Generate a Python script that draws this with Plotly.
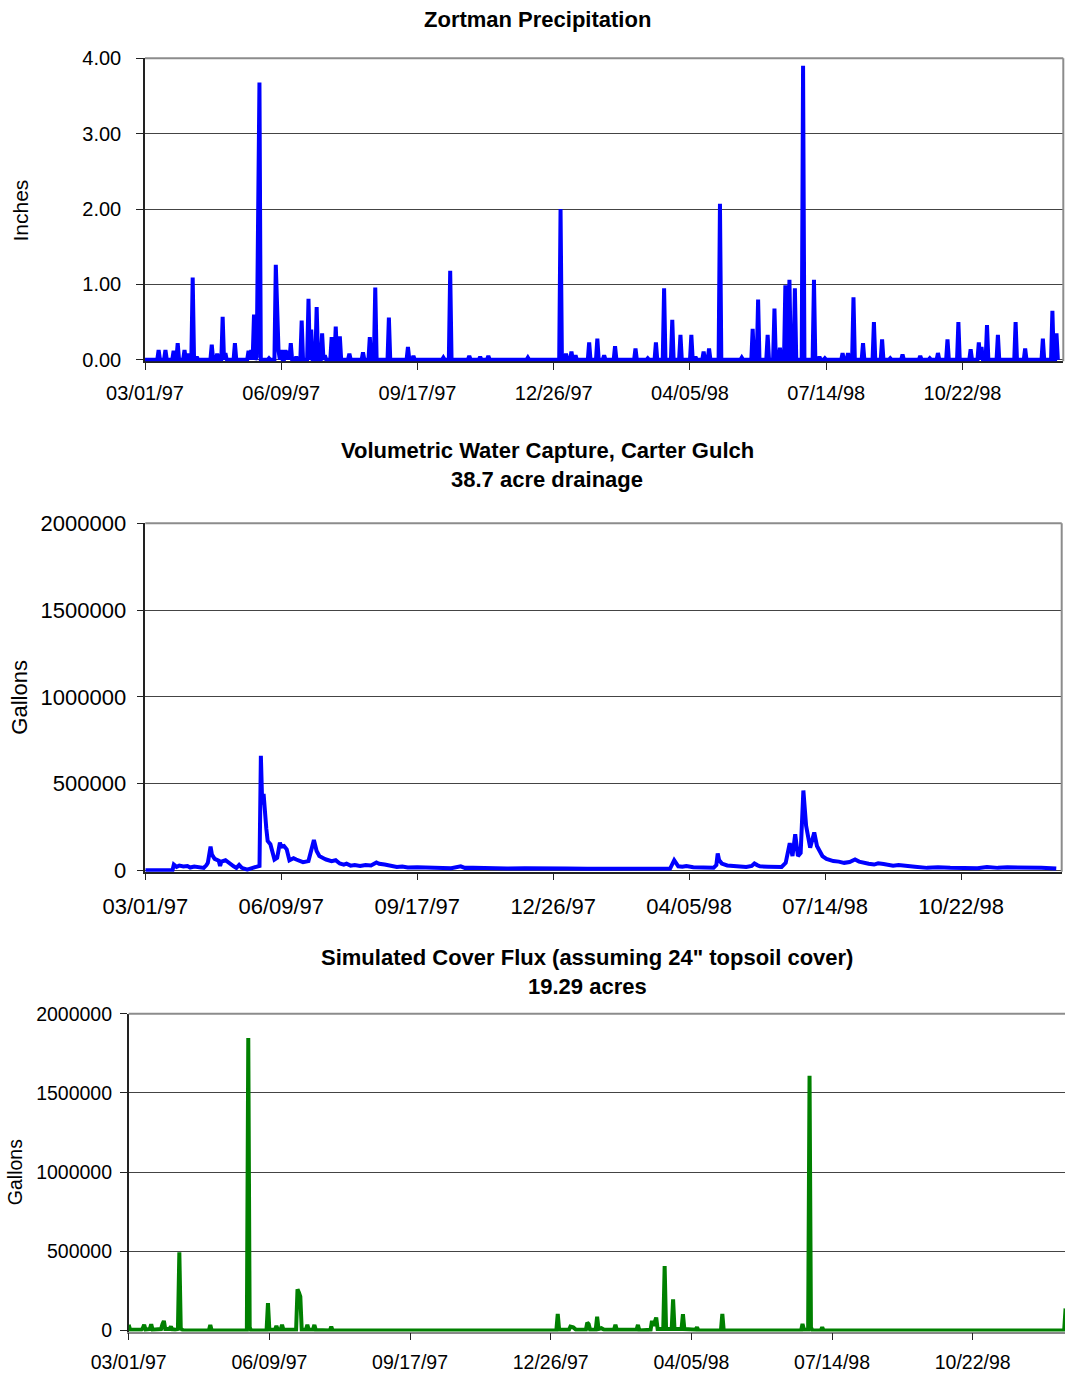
import pandas as pd
import plotly.graph_objects as go

W, H = 1065, 1374
FONT = "Liberation Sans, Arial, sans-serif"

# ---------------- data ----------------
precip_dates = [
    "1997-03-11", "1997-03-16", "1997-03-22", "1997-03-25", "1997-03-30", "1997-04-02",
    "1997-04-05", "1997-04-08", "1997-04-19", "1997-04-23", "1997-04-27", "1997-04-29",
    "1997-05-06", "1997-05-16", "1997-05-18", "1997-05-20", "1997-05-22", "1997-05-23",
    "1997-05-24", "1997-05-31", "1997-06-05", "1997-06-06", "1997-06-07", "1997-06-09",
    "1997-06-12", "1997-06-14", "1997-06-16", "1997-06-20", "1997-06-24", "1997-06-29",
    "1997-07-01", "1997-07-05", "1997-07-09", "1997-07-11", "1997-07-16", "1997-07-19",
    "1997-07-22", "1997-07-29", "1997-08-08", "1997-08-13", "1997-08-17", "1997-08-27",
    "1997-09-10", "1997-09-14", "1997-10-06", "1997-10-11", "1997-10-25", "1997-11-02",
    "1997-11-08", "1997-12-07", "1997-12-31", "1998-01-04", "1998-01-08", "1998-01-11",
    "1998-01-21", "1998-01-27", "1998-02-01", "1998-02-09", "1998-02-24", "1998-03-05",
    "1998-03-11", "1998-03-17", "1998-03-23", "1998-03-29", "1998-04-06", "1998-04-09",
    "1998-04-15", "1998-04-19", "1998-04-27", "1998-05-13", "1998-05-21", "1998-05-25",
    "1998-06-01", "1998-06-06", "1998-06-10", "1998-06-14", "1998-06-17", "1998-06-21",
    "1998-06-27", "1998-07-05", "1998-07-09", "1998-07-13", "1998-07-26", "1998-07-30",
    "1998-08-03", "1998-08-10", "1998-08-18", "1998-08-24", "1998-08-30", "1998-09-08",
    "1998-09-21", "1998-09-28", "1998-10-04", "1998-10-11", "1998-10-19", "1998-10-28",
    "1998-11-03", "1998-11-05", "1998-11-09", "1998-11-17", "1998-11-30", "1998-12-07",
    "1998-12-20", "1998-12-27", "1998-12-30",
]
precip_inches = [
    0.13, 0.13, 0.12, 0.22, 0.13, 0.08,
    1.09, 0.04, 0.20, 0.08, 0.57, 0.09,
    0.22, 0.12, 0.13, 0.60, 0.04, 2.54,
    3.68, 0.02, 1.26, 0.40, 0.12, 0.13,
    0.13, 0.12, 0.22, 0.04, 0.52, 0.81,
    0.40, 0.70, 0.35, 0.06, 0.30, 0.44,
    0.31, 0.08, 0.10, 0.30, 0.96, 0.56,
    0.17, 0.05, 0.03, 1.18, 0.05, 0.04,
    0.05, 0.03, 2.00, 0.08, 0.11, 0.06,
    0.23, 0.28, 0.06, 0.18, 0.15, 0.02,
    0.23, 0.95, 0.53, 0.33, 0.33, 0.04,
    0.11, 0.15, 2.07, 0.03, 0.41, 0.80,
    0.33, 0.68, 0.16, 0.99, 1.06, 0.95,
    3.90, 1.06, 0.04, 0.02, 0.09, 0.09,
    0.83, 0.22, 0.50, 0.27, 0.02, 0.07,
    0.05, 0.02, 0.09, 0.27, 0.50, 0.14,
    0.23, 0.17, 0.46, 0.33, 0.50, 0.15,
    0.28, 0.65, 0.35,
]
record_start = "1997-03-01"
record_end = "1998-12-31"

capture_dates = [
    "1997-03-01", "1997-03-21", "1997-03-22", "1997-03-24", "1997-03-26", "1997-03-29",
    "1997-04-01", "1997-04-03", "1997-04-06", "1997-04-08", "1997-04-10", "1997-04-13",
    "1997-04-15", "1997-04-16", "1997-04-18", "1997-04-19", "1997-04-21", "1997-04-24",
    "1997-04-25", "1997-04-26", "1997-04-29", "1997-05-01", "1997-05-05", "1997-05-07",
    "1997-05-09", "1997-05-11", "1997-05-15", "1997-05-19", "1997-05-23", "1997-05-24",
    "1997-05-25", "1997-05-26", "1997-05-27", "1997-05-28", "1997-05-29", "1997-05-30",
    "1997-06-01", "1997-06-04", "1997-06-06", "1997-06-08", "1997-06-09", "1997-06-11",
    "1997-06-13", "1997-06-15", "1997-06-18", "1997-06-20", "1997-06-23", "1997-06-25",
    "1997-06-29", "1997-07-01", "1997-07-03", "1997-07-05", "1997-07-07", "1997-07-10",
    "1997-07-12", "1997-07-16", "1997-07-19", "1997-07-22", "1997-07-25", "1997-07-27",
    "1997-07-30", "1997-08-02", "1997-08-06", "1997-08-10", "1997-08-14", "1997-08-18",
    "1997-08-20", "1997-08-24", "1997-08-28", "1997-09-02", "1997-09-06", "1997-09-10",
    "1997-09-17", "1997-09-24", "1997-10-04", "1997-10-12", "1997-10-19", "1997-10-22",
    "1997-10-28", "1997-11-05", "1997-11-15", "1997-11-22", "1997-12-05", "1997-12-20",
    "1998-01-05", "1998-01-20", "1998-01-30", "1998-02-15", "1998-03-01", "1998-03-15",
    "1998-03-22", "1998-03-25", "1998-03-28", "1998-03-31", "1998-04-03", "1998-04-08",
    "1998-04-13", "1998-04-18", "1998-04-23", "1998-04-25", "1998-04-26", "1998-04-27",
    "1998-04-29", "1998-05-03", "1998-05-08", "1998-05-12", "1998-05-17", "1998-05-21",
    "1998-05-23", "1998-05-25", "1998-05-27", "1998-06-02", "1998-06-08", "1998-06-12",
    "1998-06-15", "1998-06-18", "1998-06-20", "1998-06-22", "1998-06-24", "1998-06-26",
    "1998-06-28", "1998-06-30", "1998-07-03", "1998-07-06", "1998-07-08", "1998-07-12",
    "1998-07-15", "1998-07-20", "1998-07-24", "1998-07-28", "1998-08-01", "1998-08-05",
    "1998-08-08", "1998-08-11", "1998-08-15", "1998-08-19", "1998-08-22", "1998-08-26",
    "1998-08-30", "1998-09-02", "1998-09-06", "1998-09-12", "1998-09-18", "1998-09-27",
    "1998-10-05", "1998-10-14", "1998-10-25", "1998-11-03", "1998-11-10", "1998-11-18",
    "1998-11-25", "1998-12-02", "1998-12-10", "1998-12-20", "1998-12-31",
]
capture_gallons = [
    0, 0, 33000, 20000, 27000, 22000,
    25000, 16000, 22000, 20000, 15000, 14000,
    30000, 43000, 136000, 91000, 66000, 55000,
    25000, 50000, 58000, 45000, 23000, 14000,
    31000, 14000, 4000, 14000, 20000, 25000,
    660000, 380000, 440000, 300000, 240000, 169000,
    150000, 62000, 72000, 160000, 136000, 140000,
    121000, 58000, 70000, 62000, 55000, 47000,
    53000, 111000, 175000, 111000, 82000, 70000,
    62000, 53000, 58000, 39000, 33000, 38000,
    27000, 30000, 25000, 31000, 28000, 45000,
    38000, 33000, 25000, 19000, 22000, 16000,
    17000, 14000, 15000, 12000, 23000, 14000,
    15000, 12000, 13000, 10000, 12000, 9000,
    11000, 9000, 10000, 9000, 10000, 9000,
    10000, 58000, 23000, 20000, 25000, 18000,
    17000, 14000, 15000, 30000, 97000, 60000,
    39000, 28000, 23000, 20000, 19000, 25000,
    39000, 30000, 23000, 21000, 19000, 19000,
    43000, 156000, 82000, 208000, 82000, 100000,
    460000, 257000, 130000, 218000, 140000, 82000,
    66000, 53000, 50000, 43000, 48000, 62000,
    50000, 43000, 38000, 33000, 40000, 36000,
    31000, 27000, 30000, 23000, 20000, 14000,
    17000, 14000, 15000, 12000, 19000, 14000,
    17000, 17000, 13000, 15000, 10000,
]

flux_dates = [
    "1997-03-01", "1997-03-02", "1997-03-10", "1997-03-11", "1997-03-12", "1997-03-13",
    "1997-03-16", "1997-03-17", "1997-03-18", "1997-03-24", "1997-03-25", "1997-03-26",
    "1997-03-27", "1997-03-30", "1997-03-31", "1997-04-01", "1997-04-03", "1997-04-05",
    "1997-04-06", "1997-04-07", "1997-04-08", "1997-04-10", "1997-04-27", "1997-04-28",
    "1997-04-29", "1997-05-24", "1997-05-25", "1997-05-26", "1997-05-27", "1997-06-07",
    "1997-06-08", "1997-06-09", "1997-06-13", "1997-06-14", "1997-06-15", "1997-06-17",
    "1997-06-18", "1997-06-19", "1997-06-28", "1997-06-29", "1997-06-30", "1997-07-01",
    "1997-07-02", "1997-07-05", "1997-07-06", "1997-07-07", "1997-07-10", "1997-07-11",
    "1997-07-12", "1997-07-22", "1997-07-23", "1997-07-24", "1997-12-30", "1997-12-31",
    "1998-01-01", "1998-01-08", "1998-01-09", "1998-01-11", "1998-01-13", "1998-01-20",
    "1998-01-21", "1998-01-22", "1998-01-23", "1998-01-27", "1998-01-28", "1998-01-29",
    "1998-01-31", "1998-02-02", "1998-02-09", "1998-02-10", "1998-02-11", "1998-02-25",
    "1998-02-26", "1998-02-27", "1998-03-07", "1998-03-08", "1998-03-09", "1998-03-11",
    "1998-03-12", "1998-03-16", "1998-03-17", "1998-03-18", "1998-03-22", "1998-03-23",
    "1998-03-24", "1998-03-29", "1998-03-30", "1998-03-31", "1998-04-08", "1998-04-09",
    "1998-04-10", "1998-04-26", "1998-04-27", "1998-04-28", "1998-06-22", "1998-06-23",
    "1998-06-24", "1998-06-27", "1998-06-28", "1998-06-29", "1998-06-30", "1998-07-06",
    "1998-07-07", "1998-07-08", "1998-12-26", "1998-12-27",
]
flux_gallons = [
    36000, 5000, 5000, 15000, 36000, 5000,
    10000, 40000, 5000, 10000, 40000, 61000,
    10000, 10000, 25000, 8000, 5000, 10000,
    495000, 15000, 5000, 0, 0, 36000,
    0, 0, 1846000, 20000, 0, 0,
    173000, 5000, 5000, 30000, 5000, 5000,
    36000, 5000, 5000, 261000, 240000, 215000,
    5000, 5000, 36000, 5000, 5000, 36000,
    3000, 0, 25000, 0, 0, 105000,
    5000, 5000, 25000, 20000, 5000, 5000,
    50000, 40000, 5000, 5000, 88000, 10000,
    15000, 5000, 5000, 36000, 5000, 5000,
    36000, 0, 5000, 61000, 30000, 82000,
    10000, 10000, 408000, 10000, 10000, 198000,
    10000, 10000, 103000, 10000, 5000, 21000,
    0, 0, 105000, 0, 0, 42000,
    5000, 5000, 1608000, 20000, 0, 0,
    21000, 0, 0, 140000,
]

titles = [
    "Zortman Precipitation",
    "Volumetric Water Capture, Carter Gulch",
    "38.7 acre drainage",
    "Simulated Cover Flux (assuming 24\" topsoil cover)",
    "19.29 acres",
]
y_titles = ["Inches", "Gallons", "Gallons"]

# daily precipitation record (days without rain are 0.00)
days = pd.date_range(record_start, record_end, freq="D")
precip = pd.Series(0.0, index=days)
precip.loc[pd.to_datetime(precip_dates)] = precip_inches

# ---------------- figure ----------------
def px_x(p):
    return p / W


def px_y(p):
    return 1 - p / H


start = pd.Timestamp(record_start)
DAY_MS = 86400000

fig = go.Figure()
fig.add_trace(go.Scatter(x=precip.index, y=precip.values, mode="lines",
                         line=dict(color="#0000ff", width=4), xaxis="x", yaxis="y",
                         showlegend=False))
fig.add_trace(go.Scatter(x=pd.to_datetime(capture_dates), y=capture_gallons, mode="lines",
                         line=dict(color="#0000ff", width=4), xaxis="x2", yaxis="y2",
                         showlegend=False))
fig.add_trace(go.Scatter(x=pd.to_datetime(flux_dates), y=flux_gallons, mode="lines",
                         line=dict(color="#008000", width=4), xaxis="x3", yaxis="y3",
                         showlegend=False))

# pixel geometry of each plot area: left, right, top(max), zero, bottom(axis)
geo = [
    dict(l=145.0, r=1063.3, top=58.3, zero=359.8, bot=361.3, ymax=4.0, days=674, fs=20),
    dict(l=145.3, r=1061.7, top=523.3, zero=870.3, bot=871.7, ymax=2000000, days=674, fs=22),
    dict(l=128.7, r=1065.0, top=1013.7, zero=1330.6, bot=1331.6, ymax=2000000, days=665.6, fs=19.5),
]
standoff_x = [6, 7, 5]
standoff_y = [11, 6, 4]
layout = {}
for i, g in enumerate(geo):
    sfx = "" if i == 0 else str(i + 1)
    per_px = g["ymax"] / (g["zero"] - g["top"])
    ymin = -(g["bot"] - g["zero"]) * per_px
    end = start + pd.Timedelta(days=g["days"])
    layout["xaxis" + sfx] = dict(
        domain=[px_x(g["l"]), px_x(g["r"])], anchor="y" + sfx, type="date",
        range=[start, end], tick0=start, dtick=100 * DAY_MS, tickformat="%m/%d/%y",
        ticks="outside", ticklen=7, tickwidth=1.3, tickcolor="#222",
        showline=True, linecolor="#222" if i < 2 else "#888", linewidth=1.5,
        showgrid=False, zeroline=False, layer="below traces", automargin=False,
        tickfont=dict(family=FONT, size=g["fs"], color="#000"),
        ticklabelstandoff=standoff_x[i], fixedrange=True,
    )
    layout["yaxis" + sfx] = dict(
        domain=[px_y(g["bot"]), px_y(g["top"])], anchor="x" + sfx,
        range=[ymin, g["ymax"]], tick0=0, dtick=g["ymax"] / 4,
        tickformat=".2f" if i == 0 else "d",
        ticks="outside", ticklen=7, tickwidth=1.3, tickcolor="#222",
        showline=True, linecolor="#222", linewidth=1.5,
        showgrid=True, gridcolor="#444", gridwidth=1, zeroline=False,
        layer="below traces", automargin=False,
        tickfont=dict(family=FONT, size=g["fs"], color="#000"),
        ticklabelstandoff=standoff_y[i], fixedrange=True,
    )

shapes = []
for i in range(3):
    sfx = "" if i == 0 else str(i + 1)
    shapes.append(dict(type="line", xref="x%s domain" % sfx, yref="y%s domain" % sfx,
                       x0=0, x1=1, y0=1, y1=1, line=dict(color="#8c8c8c", width=2)))
    if i < 2:
        shapes.append(dict(type="line", xref="x%s domain" % sfx, yref="y%s domain" % sfx,
                           x0=1, x1=1, y0=0, y1=1, line=dict(color="#8c8c8c", width=2)))

title_font = dict(family=FONT, size=22, color="#000")
ann = [
    dict(text="<b>%s</b>" % titles[0], x=px_x(537), y=px_y(19)),
    dict(text="<b>%s</b>" % titles[1], x=px_x(547), y=px_y(450)),
    dict(text="<b>%s</b>" % titles[2], x=px_x(547), y=px_y(480)),
    dict(text="<b>%s</b>" % titles[3], x=px_x(587), y=px_y(957)),
    dict(text="<b>%s</b>" % titles[4], x=px_x(587), y=px_y(987)),
]
annotations = []
for a in ann:
    a.update(xref="paper", yref="paper", xanchor="center", yanchor="middle",
             showarrow=False, font=title_font)
    annotations.append(a)
for txt, x, y, fs in [(y_titles[0], 20.5, 211, 21), (y_titles[1], 18.7, 697, 22),
                      (y_titles[2], 14.7, 1172.5, 19.5)]:
    annotations.append(dict(text=txt, x=px_x(x), y=px_y(y), xref="paper", yref="paper",
                            xanchor="center", yanchor="middle", textangle=-90,
                            showarrow=False, font=dict(family=FONT, size=fs, color="#000")))

fig.update_layout(
    width=W, height=H, margin=dict(l=0, r=0, t=0, b=0, pad=0, autoexpand=False),
    paper_bgcolor="white", plot_bgcolor="white",
    font=dict(family=FONT, color="#000"),
    shapes=shapes, annotations=annotations, showlegend=False,
    **layout,
)

fig.write_html("out.html", config={"displayModeBar": False},
               post_script="document.body.style.margin='0';document.body.style.overflow='hidden';")
